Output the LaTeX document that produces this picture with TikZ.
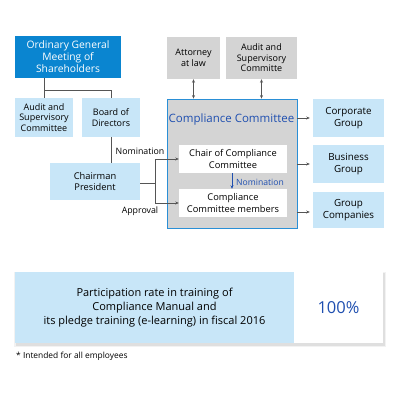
\documentclass[tikz,border=0pt]{standalone}
\usepackage{fontspec}
\setmainfont{Open Sans}
\usetikzlibrary{arrows.meta,shadows}
\definecolor{ogmblue}{HTML}{0A85D0}
\definecolor{lblue}{HTML}{C8E6F8}
\definecolor{gbox}{HTML}{D4D4D4}
\definecolor{ccborder}{HTML}{2A8FD6}
\definecolor{tblue}{HTML}{1F4FB0}
\definecolor{lgray}{HTML}{555555}
\tikzset{
  box/.style={rectangle,inner sep=1pt,align=center,font=\fontsize{9}{10.5}\selectfont,text=black},
  lbox/.style={box,fill=lblue},
  gbx/.style={box,fill=gbox},
  wbox/.style={box,fill=white},
  conn/.style={draw=lgray,line width=0.6pt},
  arr/.style={conn,-{Stealth[length=3.5pt,width=3pt]}},
  darr/.style={conn,{Stealth[length=3.5pt,width=3pt]}-{Stealth[length=3.5pt,width=3pt]}},
  lbl/.style={font=\fontsize{8.8}{10}\selectfont,inner sep=1pt}
}
\begin{document}
\begin{tikzpicture}[x=1pt,y=-1pt]
\useasboundingbox (0,0) rectangle (400,400);
% left side
\node[box,fill=ogmblue,text=white,minimum width=106pt,minimum height=42pt,font=\fontsize{10.3}{12}\selectfont] (ogm) at (68,57) {Ordinary General\\Meeting of\\Shareholders};
\node[lbox,minimum width=58pt,minimum height=39pt] (auditl) at (44,117.5) {Audit and\\Supervisory\\Committee};
\node[lbox,minimum width=58pt,minimum height=39pt] (board) at (111,117.5) {Board of\\Directors};
\node[lbox,minimum width=90pt,minimum height=37pt,font=\fontsize{9.3}{11.5}\selectfont] (chairman) at (95,181.5) {Chairman\\President};
% top gray
\node[gbx,minimum width=53pt,minimum height=42pt] (atty) at (193.5,58) {Attorney\\at law};
\node[gbx,minimum width=71pt,minimum height=42pt] (auditr) at (261.5,58) {Audit and\\Supervisory\\Committe};
% compliance committee
\node[rectangle,fill=gbox,draw=ccborder,line width=0.8pt,minimum width=130pt,minimum height=129pt] (cc) at (232,163.5) {};
\node[font=\fontsize{11.5}{13}\selectfont,text=tblue,inner sep=1pt] (cctitle) at (231.5,120) {Compliance Committee};
\node[wbox,minimum width=108pt,minimum height=28pt,font=\fontsize{9.3}{11.5}\selectfont] (chair) at (233,159) {Chair of Compliance\\Committee};
\node[wbox,minimum width=108pt,minimum height=28pt,font=\fontsize{9.3}{11.5}\selectfont] (members) at (233,203) {Compliance\\Committee members};
% right
\node[lbox,minimum width=71pt,minimum height=38pt,font=\fontsize{9.8}{12}\selectfont] (corp) at (348.5,118) {Corporate\\Group};
\node[lbox,minimum width=71pt,minimum height=38pt,font=\fontsize{9.8}{12}\selectfont] (bus) at (348.5,164) {Business\\Group};
\node[lbox,minimum width=71pt,minimum height=36pt,font=\fontsize{9.8}{12}\selectfont] (grp) at (348.5,210) {Group\\Companies};
% connectors
\coordinate (j1) at (44,90);
\draw[conn] (ogm.south -| auditl.north) -- (auditl.north);
\draw[conn] (j1) -| (board.north);
\draw[conn] (board.south) -- (board.south |- chairman.north);
\coordinate (j2) at (155,183);
\draw[conn] (chairman.east |- j2) -- (j2);
\draw[arr] (j2) |- (chair.west);
\draw[arr] (j2) |- (members.west);
\node[lbl,anchor=south] (nomlbl) at (140,156) {Nomination};
\node[lbl,anchor=north] (applbl) at (140,206) {Approval};
\draw[draw=tblue,line width=0.6pt,-{Stealth[length=3.5pt,width=3pt]}] (chair.south -| 232,0) -- (members.north -| 232,0);
\node[lbl,text=tblue,anchor=west,font=\fontsize{8.6}{10}\selectfont] (nom2) at (235,182.5) {Nomination};
\draw[darr] (atty.south) -- (atty.south |- cc.north);
\draw[darr] (auditr.south) -- (auditr.south |- cc.north);
\draw[arr,shorten >=3pt] (cc.east |- 0,118) -- (corp.west);
\draw[arr,shorten >=3pt] (cc.east |- 0,164) -- (bus.west);
\draw[arr,shorten >=3pt] (cc.east |- 0,212) -- (grp.west |- 0,212);
% bottom
\fill[black,opacity=0.08] (16,273) rectangle (385,345.5);
\fill[black,opacity=0.05] (14,272) rectangle (386,347);
\node[rectangle,fill=lblue,minimum width=279pt,minimum height=71pt,inner sep=0pt,align=center,font=\fontsize{11}{14}\selectfont] (rate) at (154.5,307.5) {Participation rate in training of\\Compliance Manual and\\its pledge training (e-learning) in fiscal 2016};
\node[rectangle,fill=white,minimum width=89pt,minimum height=71pt,inner sep=0pt,font=\fontsize{16.5}{19}\selectfont,text=tblue] (pct) at (338.5,307.5) {100\%};
\node[lbl,anchor=west,font=\fontsize{8.4}{9}\selectfont] (note) at (15,356) {* Intended for all employees};
\end{tikzpicture}
\end{document}
